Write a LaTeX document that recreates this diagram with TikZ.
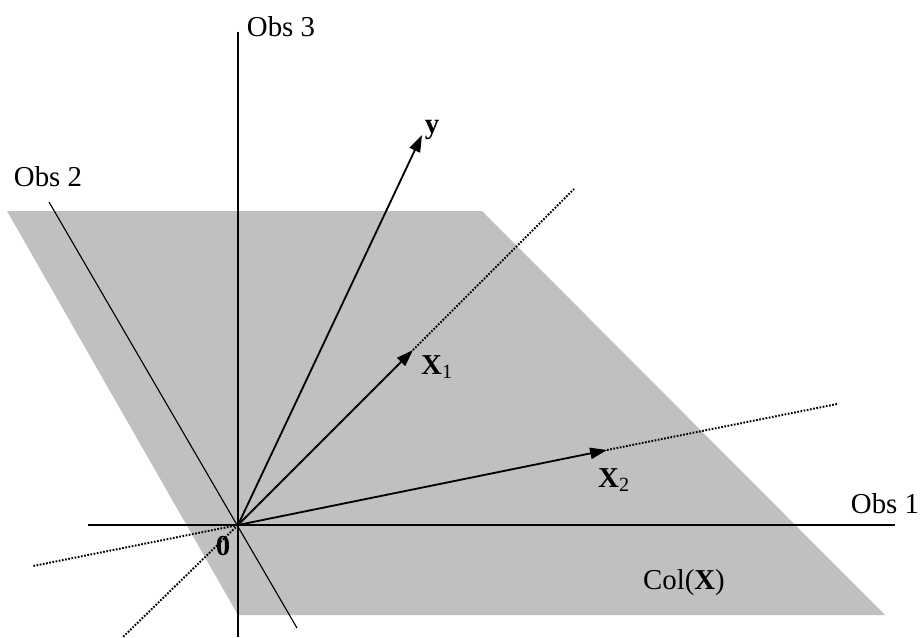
\documentclass[tikz,border=0pt]{standalone}
\usepackage{fontspec}
\setmainfont{Liberation Serif}
\usetikzlibrary{arrows.meta}
\definecolor{planegray}{RGB}{192,192,192}

\begin{document}
\begin{tikzpicture}[x=0.025cm, y=-0.025cm,
  axis/.style={draw=black, line width=0.8pt},
  vec/.style={-{Triangle[length=12pt,width=8pt]}, line width=1.3pt},
  ext/.style={line width=1.4pt, dash pattern=on 1.2pt off 1.1pt},
  lbl/.style={font=\fontsize{20.5}{24}\selectfont, inner sep=0pt}
]
  \useasboundingbox (0,0) rectangle (924,637);
  \fill[planegray] (7,211) -- (482,211) -- (885,615) -- (238,615) -- cycle;

  \coordinate (O) at (238,525);
  \coordinate (o1w) at (88,525);   \coordinate (o1e) at (895,525);
  \coordinate (o2n) at (49,202);   \coordinate (o2s) at (297,628);
  \coordinate (o3n) at (238,32);   \coordinate (o3s) at (238,637);
  \coordinate (y)  at (422,135);
  \coordinate (x1) at (413,350);   \coordinate (x1far) at (574,189);   \coordinate (x1back) at (123,637);
  \coordinate (x2) at (607,450);   \coordinate (x2far) at (837,404);   \coordinate (x2back) at (33,566);

  \draw[axis] (o1w) -- (o1e);
  \draw[axis] (o2n) -- (o2s);
  \draw[axis] (o3n) -- (o3s);

  \draw[ext] (x1) -- (x1far);
  \draw[ext] (O) -- (x1back);
  \draw[ext] (x2) -- (x2far);
  \draw[ext] (O) -- (x2back);

  \draw[vec] (O) -- (y);
  \draw[vec] (O) -- (x1);
  \draw[vec] (O) -- (x2);

  \node[lbl] (obs1) at (885,504) {Obs 1};
  \node[lbl] (obs2) at (48,177)  {Obs 2};
  \node[lbl] (obs3) at (281,27)  {Obs 3};
  \node[lbl] (ylab) at (432,130) {\textbf{y}};
  \node[lbl] (x1lab) at (437,367) {\textbf{X}\textsubscript{1}};
  \node[lbl] (x2lab) at (614,480) {\textbf{X}\textsubscript{2}};
  \node[lbl] (zero) at (223,546) {\textbf{0}};
  \node[lbl] (colx) at (684,583) {Col(\textbf{X})};
\end{tikzpicture}
\end{document}
